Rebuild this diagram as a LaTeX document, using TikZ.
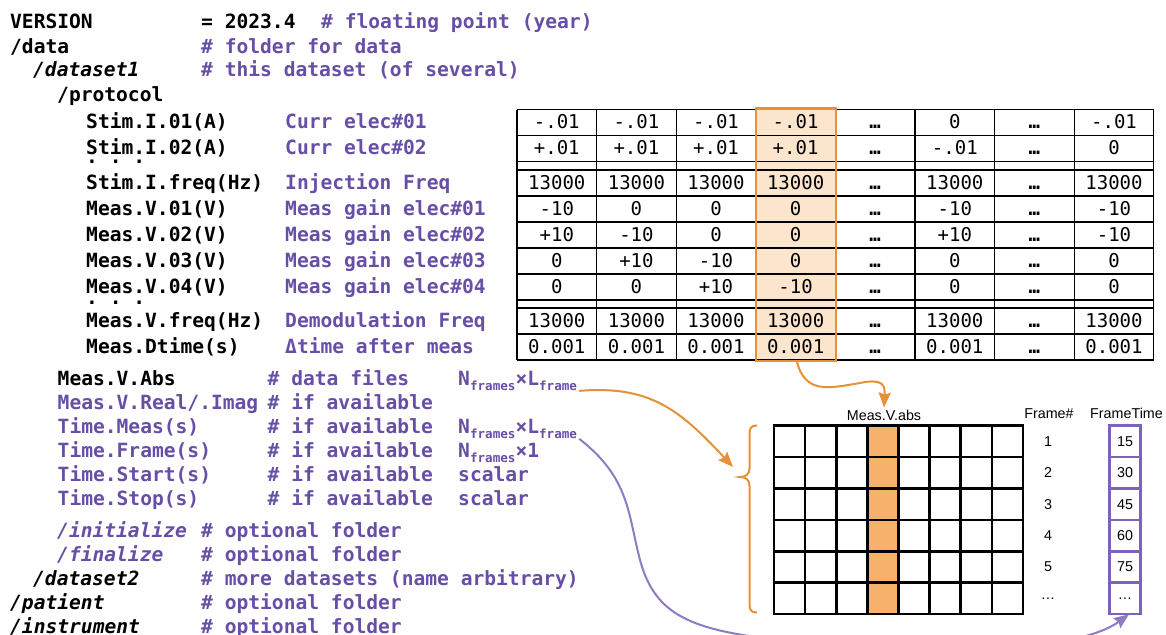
\documentclass[tikz,border=0pt]{standalone}
\usepackage{xcolor}
\usepackage{fontspec}
\setmonofont{DejaVu Sans Mono}
\setsansfont{Liberation Sans}
\usepackage{tikz}
\usetikzlibrary{arrows.meta}
\definecolor{inkK}{HTML}{000000}
\definecolor{cPurple}{HTML}{674EA7}
\definecolor{lPurple}{HTML}{8E7CC3}
\definecolor{mPurple}{HTML}{7C62BD}
\definecolor{cOrange}{HTML}{E69138}
\definecolor{lOrange}{HTML}{FCE5CD}
\definecolor{mOrange}{HTML}{F6B26B}

\newcommand\lowsub[1]{\raisebox{-5.5pt}{\fontsize{12.6}{13}\selectfont #1}}

\tikzset{
  codeK/.style={anchor=base west, inner sep=0pt, text=inkK,
    font=\fontsize{19.6}{24}\selectfont\ttfamily\bfseries},
  codeP/.style={codeK, text=cPurple},
  codeKi/.style={codeK, font=\fontsize{19.6}{24}\selectfont\ttfamily\bfseries\itshape},
  codePi/.style={codeKi, text=cPurple},
  cellVal/.style={anchor=base, inner sep=0pt, text=inkK,
    font=\fontsize{19}{24}\selectfont\ttfamily},
  tabLine/.style={draw=inkK, line width=1.3pt},
  gridLine/.style={draw=inkK, line width=2.6pt},
  gridTxt/.style={inner sep=0pt, text=inkK, font=\fontsize{14.3}{16}\selectfont\sffamily},
  oArrow/.style={draw=cOrange, line width=2pt, -{Stealth[length=15pt,width=12pt,inset=2pt]}},
  pArrow/.style={draw=lPurple, line width=2pt, -{Stealth[length=15pt,width=12pt,inset=2pt]}},
}

\begin{document}
\begin{tikzpicture}[x=1pt, y=-1pt]
  \useasboundingbox (0,0) rectangle (1166,634);
  \fill[white] (0,0) rectangle (1166,634);
  \clip (0,0) rectangle (1166,634);

  % header lines
  \node[codeK] (version) at (10,29) {VERSION};
  \node[codeK] at (201,29) {= 2023.4};
  \node[codeP] at (321,29) {\# floating point (year)};
  \node[codeK] (data) at (10,53) {/data};
  \node[codeP] at (201,53) {\# folder for data};
  \node[codeKi] (dataset1) at (33,77) {/dataset1};
  \node[codeP] at (201,77) {\# this dataset (of several)};
  \node[codeK] (protocol) at (57,101) {/protocol};

  % protocol labels
  \foreach \yy/\lab/\desc in {
      128.5/Stim.I.01(A)/Curr elec\#01,
      154.5/Stim.I.02(A)/Curr elec\#02,
      189/Stim.I.freq(Hz)/Injection Freq,
      215/Meas.V.01(V)/Meas gain elec\#01,
      241/Meas.V.02(V)/Meas gain elec\#02,
      267/Meas.V.03(V)/Meas gain elec\#03,
      293/Meas.V.04(V)/Meas gain elec\#04,
      327/Meas.V.freq(Hz)/Demodulation Freq,
      353/Meas.Dtime(s)/Δtime after meas}{
    \node[codeK] at (86,\yy) {\lab};
    \node[codeP] at (285,\yy) {\desc};
  }
  \node[codeK] at (86,163.5) {. . .};
  \node[codeK] at (86,304.5) {. . .};

  % protocol table
  \node[fill=lOrange, inner sep=0pt, anchor=north west,
        minimum width=79.6pt, minimum height=252pt] (hlCol) at (755.8,108.5) {};
  \foreach \xx in {517,596.6,676.2,755.8,835.4,915,994.6,1074.2,1153.8}
    \draw[tabLine] (\xx,109.5) -- (\xx,360);
  \foreach \yy in {109.5,135.5,161.5,170,196,222,248,274,300,308,334,360}
    \draw[tabLine] (517,\yy) -- (1153.8,\yy);
  \foreach \yy/\va/\vb/\vc/\vd/\ve/\vf in {
      128.5/-.01/-.01/-.01/-.01/0/-.01,
      154.5/+.01/+.01/+.01/+.01/-.01/0,
      189/13000/13000/13000/13000/13000/13000,
      215/-10/0/0/0/-10/-10,
      241/+10/-10/0/0/+10/-10,
      267/0/+10/-10/0/0/0,
      293/0/0/+10/-10/0/0,
      327/13000/13000/13000/13000/13000/13000,
      353/0.001/0.001/0.001/0.001/0.001/0.001}{
    \node[cellVal] at (556.8,\yy) {\va};
    \node[cellVal] at (636.4,\yy) {\vb};
    \node[cellVal] at (716,\yy) {\vc};
    \node[cellVal] at (795.6,\yy) {\vd};
    \node[cellVal] at (875.2,\yy) {\bfseries …};
    \node[cellVal] at (954.8,\yy) {\ve};
    \node[cellVal] at (1034.4,\yy) {\bfseries …};
    \node[cellVal] at (1114,\yy) {\vf};
  }
  \draw[cOrange, line width=2.2pt] (hlCol.north west) rectangle (hlCol.south east);

  % data files
  \node[codeK] (vAbs) at (57.5,385) {Meas.V.Abs};
  \node[codeP] at (267.5,385) {\# data files};
  \node[codeP] (dimAbs) at (458,385) {N\lowsub{frames}×L\lowsub{frame}};
  \node[codeP] at (57.5,409) {Meas.V.Real/.Imag};
  \node[codeP] at (267.5,409) {\# if available};
  \node[codeP] at (57.5,433) {Time.Meas(s)};
  \node[codeP] at (267.5,433) {\# if available};
  \node[codeP] (dimMeas) at (458,433) {N\lowsub{frames}×L\lowsub{frame}};
  \node[codeP] at (57.5,457) {Time.Frame(s)};
  \node[codeP] at (267.5,457) {\# if available};
  \node[codeP] (dimFrame) at (458,457) {N\lowsub{frames}×1};
  \node[codeP] at (57.5,481) {Time.Start(s)};
  \node[codeP] at (267.5,481) {\# if available};
  \node[codeP] at (458,481) {scalar};
  \node[codeP] at (57.5,505) {Time.Stop(s)};
  \node[codeP] at (267.5,505) {\# if available};
  \node[codeP] at (458,505) {scalar};

  % optional folders
  \node[codePi] at (57,537) {/initialize};
  \node[codeP] at (201,537) {\# optional folder};
  \node[codePi] at (57,561) {/finalize};
  \node[codeP] at (201,561) {\# optional folder};
  \node[codeKi] at (33,585) {/dataset2};
  \node[codeP] at (201,585) {\# more datasets (name arbitrary)};
  \node[codeKi] at (10,609) {/patient};
  \node[codeP] at (201,609) {\# optional folder};
  \node[codeKi] at (10,633) {/instrument};
  \node[codeP] at (201,633) {\# optional folder};

  % frame matrix
  \fill[mOrange] (867.4,425.7) rectangle (898.5,614);
  \foreach \i in {0,...,8}
    \draw[gridLine] ({774+\i*31.125},425.7) -- ++(0,188.3);
  \foreach \j in {0,...,6}
    \draw[gridLine] (772.7,{425.7+\j*31.38}) -- ++(251.6,0);
  \node[gridTxt] (absTitle) at (884,415) {Meas.V.abs};
  \node[gridTxt] (frameHead) at (1049,413.5) {Frame\#};
  \node[gridTxt] (timeHead) at (1126.5,413.5) {FrameTime};
  \node[draw=mPurple, line width=2.6pt, inner sep=0pt,
        minimum width=31.4pt, minimum height=188.3pt] (ftBox) at (1125,519.85) {};
  \foreach \j in {1,...,5}
    \draw[mPurple, line width=2.6pt] (1109.3,{425.7+\j*31.38}) -- ++(31.4,0);
  \foreach \fn/\ft [count=\k] in {1/15,2/30,3/45,4/60,5/75,…/…}{
    \node[gridTxt] at (1048,{425.7+(\k-0.5)*31.38}) {\fn};
    \node[gridTxt] at (1125,{425.7+(\k-0.5)*31.38}) {\ft};
  }

  % brace
  \coordinate (braceTip) at (740,477);
  \coordinate (braceIn) at (733,467);
  \draw[cOrange, line width=2pt] (757,425.5) .. controls (751,425.5) and (749.5,428) .. (749.5,434)
    -- (749.5,468) .. controls (749.5,474) and (746,477) .. (braceTip)
    .. controls (746,477) and (749.5,480) .. (749.5,486)
    -- (749.5,604) .. controls (749.5,610) and (751,612.5) .. (757,612.5);

  % connectors
  \draw[oArrow] ([xshift=1pt]hlCol.south) .. controls +(8,34) and (830,388) .. (860,383)
    .. controls (884,378) and (885,386) .. ([yshift=2pt]absTitle.north);
  \draw[oArrow] ([xshift=2pt]dimAbs.south east) .. controls (650,385) and (680,410) .. (braceIn);
  \draw[pArrow] ([xshift=2pt]dimMeas.south east) .. controls (630,478) and (628,515) .. (640,560)
    .. controls (655,615) and (690,630) .. (780,640)
    .. controls (950,658) and (1080,650) .. ([xshift=4pt,yshift=1pt]ftBox.south);
\end{tikzpicture}
\end{document}
